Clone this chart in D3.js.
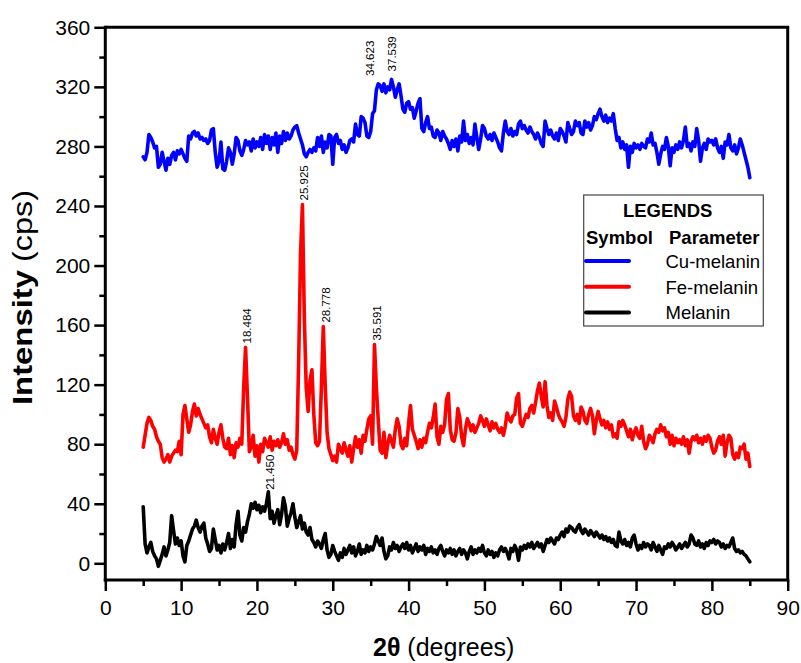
<!DOCTYPE html>
<html>
<head>
<meta charset="utf-8">
<script src="https://cdn.jsdelivr.net/npm/d3@7"></script>
<style>
  html, body { margin: 0; padding: 0; background: #ffffff; }
  svg { display: block; }
  text { font-family: "Liberation Sans", Arial, Helvetica, sans-serif; fill: #000; }
</style>
</head>
<body>
<svg id="chart" width="801" height="663"></svg>
<script>
// XRD patterns sampled every 0.25° of 2θ, from 5° to 85°
const thetaStart = 5;
const thetaStep = 0.25;

const cuMelanin = [
  273,271,276,288,286,283,279,280,
  266,268,276,270,264,272,268,274,
  276,271,277,275,278,275,272,270,
  287,285,289,290,287,289,285,286,
  284,285,282,284,291,292,276,266,
  270,283,265,264,270,279,276,268,
  275,286,284,277,274,278,284,281,
  283,277,285,279,283,280,286,278,
  288,282,287,278,286,281,289,276,
  287,282,290,284,289,285,287,291,
  293,294,289,285,281,275,273,276,
  278,276,279,277,286,280,287,276,
  283,279,288,287,268,286,288,282,
  284,278,281,276,279,284,285,283,
  295,288,287,300,299,296,287,286,
  290,302,304,318,322,321,317,322,
  316,320,318,325,320,313,318,322,
  314,305,303,309,310,305,306,299,
  304,309,312,292,290,296,300,292,
  293,287,286,291,289,284,290,287,
  285,282,278,284,280,285,277,287,
  283,297,284,288,282,286,281,295,
  286,278,285,294,292,287,285,288,
  284,289,286,283,279,277,289,297,
  290,288,292,287,290,288,295,297,
  292,294,291,289,293,290,288,285,
  289,286,282,280,297,292,288,291,
  287,285,289,284,292,290,287,283,
  296,292,288,290,297,294,296,289,
  288,297,293,296,291,294,300,298,
  302,305,300,297,301,296,299,297,
  302,292,284,286,279,283,278,281,
  266,280,276,282,279,281,278,282,
  280,279,285,283,289,281,282,276,
  268,275,280,278,286,280,267,279,
  276,281,278,283,279,284,293,280,
  282,277,283,280,292,284,270,279,
  282,278,285,283,284,281,285,279,
  276,280,272,283,281,288,279,277,
  281,275,279,285,281,276,271,266,
  259
];

const feMelanin = [
  78,86,94,98,96,92,90,85,
  82,80,71,68,70,73,68,72,
  74,76,75,82,73,100,106,97,
  88,93,102,107,99,104,100,97,
  94,91,93,85,81,90,84,80,
  88,93,84,78,77,84,73,79,
  71,81,78,84,80,118,145,112,
  75,78,86,72,79,68,80,75,
  84,81,78,85,76,82,79,83,
  78,81,87,80,83,76,78,73,
  70,76,135,208,241,165,118,102,
  123,130,100,81,79,82,118,159,
  120,88,77,73,69,72,68,80,
  77,74,81,76,72,79,68,77,
  85,78,83,74,86,82,90,97,
  99,80,147,118,96,76,74,88,
  71,80,86,82,78,90,97,92,
  80,77,84,79,94,106,90,86,
  82,77,83,78,84,81,88,94,
  91,98,107,85,80,92,88,93,
  110,114,90,83,82,88,104,98,
  85,79,90,97,94,89,93,88,
  91,94,99,96,92,97,93,89,
  95,91,94,90,88,91,86,92,
  101,97,95,99,100,111,114,94,
  92,96,100,98,104,106,101,108,
  116,121,112,105,122,106,98,101,
  96,109,105,100,97,95,92,98,
  110,115,112,99,96,100,94,105,
  102,96,94,100,104,99,87,96,
  102,97,93,96,91,95,90,93,
  85,87,84,95,92,96,93,89,
  85,90,83,88,91,86,84,92,
  82,77,80,86,84,81,87,90,
  88,93,89,91,85,88,80,86,
  79,84,81,83,80,85,79,83,
  74,82,85,83,86,81,84,80,
  85,82,86,84,78,74,76,82,
  85,80,86,72,81,86,84,73,
  70,74,71,78,77,80,70,74,
  65
];

const melanin = [
  38,13,7,11,14,8,5,3,
  -2,2,6,11,5,9,14,32,
  22,13,17,12,15,5,1,12,
  15,19,23,25,29,24,21,25,
  27,17,13,8,10,23,16,9,
  12,7,13,9,14,20,10,16,
  11,26,35,19,15,24,21,28,
  33,40,37,41,36,39,34,38,
  35,40,48,30,35,27,32,36,
  26,33,44,38,25,30,34,40,
  31,24,28,32,23,27,21,19,
  24,16,14,11,15,13,10,16,
  20,9,4,6,12,8,5,2,
  7,4,10,6,9,12,7,11,
  5,8,13,6,9,7,12,8,
  11,9,13,18,15,12,17,8,
  3,5,11,9,14,10,12,8,
  11,13,10,14,9,12,7,10,
  13,8,11,9,12,6,10,8,
  11,7,9,6,10,12,8,5,
  9,7,10,6,9,5,8,10,
  6,9,7,3,8,11,6,9,
  7,10,8,12,7,5,9,6,
  8,4,7,5,9,11,8,10,
  7,3,10,8,12,9,2,11,
  9,12,10,13,11,14,10,12,
  14,11,13,8,12,16,14,17,
  15,13,17,16,19,21,18,23,
  21,25,24,22,21,24,26,22,
  20,23,21,19,22,20,18,21,
  19,17,19,16,18,15,17,14,
  16,12,11,21,15,13,16,12,
  14,11,17,19,13,9,12,10,
  14,11,13,12,9,14,11,8,
  12,9,6,11,10,13,11,14,
  12,9,11,13,10,12,14,11,
  13,19,17,13,12,15,11,13,
  10,14,12,15,14,16,13,15,
  14,11,13,10,12,11,14,17,
  10,8,9,7,8,6,5,3,
  1
];

const seriesNames = ["Cu-melanin", "Fe-melanin", "Melanin"];
const xTicks = [0, 10, 20, 30, 40, 50, 60, 70, 80, 90];
const xMinorTicks = [5, 15, 25, 35, 45, 55, 65, 75, 85];
const yTicks = [0, 40, 80, 120, 160, 200, 240, 280, 320, 360];
const yMinorTicks = [20, 60, 100, 140, 180, 220, 260, 300, 340];

// 2θ positions of the annotated reflections
const peakSeries = ["Cu-melanin", "Cu-melanin", "Fe-melanin", "Fe-melanin", "Fe-melanin", "Fe-melanin", "Melanin"];
const peakTheta = [34.623, 37.539, 18.484, 25.925, 28.778, 35.591, 21.450];

// ---- drawing ----
const svg = d3.select("#chart");
const FONT = '"Liberation Sans", Arial, Helvetica, sans-serif';

const x = d3.scaleLinear().domain([0, 90]).range([105.3, 787.7]);
const y = d3.scaleLinear().domain([-11.2, 360]).range([580, 27.3]);

const seriesValues = { "Cu-melanin": cuMelanin, "Fe-melanin": feMelanin, "Melanin": melanin };
const seriesColor = { "Cu-melanin": "#0000ff", "Fe-melanin": "#ff0000", "Melanin": "#000000" };
// search half-width (deg) and gap (px) used to seat each peak label above its curve
const labelWindow = { "Cu-melanin": 1.6, "Fe-melanin": 0.4, "Melanin": 0.4 };
const labelGap = { "Cu-melanin": 8, "Fe-melanin": 4, "Melanin": 2 };

const points = name => seriesValues[name].map((v, i) => [thetaStart + i * thetaStep, v]);

const line = d3.line().x(d => x(d[0])).y(d => y(d[1]));

const plot = svg.append("g");
seriesNames.forEach(name => {
  plot.append("path")
    .datum(points(name))
    .attr("d", line)
    .attr("fill", "none")
    .attr("stroke", seriesColor[name])
    .attr("stroke-width", 3.6)
    .attr("stroke-linejoin", "round")
    .attr("stroke-linecap", "round");
});

// peak annotations
peakTheta.forEach((t, i) => {
  const name = peakSeries[i];
  const near = points(name).filter(d => Math.abs(d[0] - t) <= labelWindow[name]);
  const top = d3.max(near, d => d[1]);
  svg.append("text")
    .attr("transform", `translate(${x(t) + 2},${y(top) - labelGap[name]}) rotate(-90)`)
    .attr("dy", "0.35em")
    .attr("font-size", 11.5)
    .attr("text-anchor", "start")
    .text(t.toFixed(3));
});

// frame: top and right edges
const frame = svg.append("g").attr("stroke", "#000").attr("stroke-width", 3).attr("fill", "none");
frame.append("line").attr("x1", x(0)).attr("x2", x(90) + 1.5).attr("y1", y(360)).attr("y2", y(360));
frame.append("line").attr("x1", x(90)).attr("x2", x(90)).attr("y1", y(360)).attr("y2", y.range()[0]);

// y axis
const yAxisG = svg.append("g").attr("transform", `translate(${x(0)},0)`)
  .call(d3.axisLeft(y).tickValues(yTicks).tickSize(11).tickSizeOuter(0).tickPadding(4));
yAxisG.select(".domain").attr("stroke-width", 3).attr("d", `M0,${y.range()[0] + 1.5}V${y(360) - 1.5}`);
yAxisG.selectAll(".tick line").attr("stroke-width", 2.5);
yAxisG.selectAll(".tick text").attr("font-size", 21).attr("font-family", FONT);

const yMinorG = svg.append("g").attr("transform", `translate(${x(0)},0)`)
  .call(d3.axisLeft(y).tickValues(yMinorTicks).tickSize(6).tickFormat(""));
yMinorG.select(".domain").remove();
yMinorG.selectAll(".tick line").attr("stroke-width", 2.5);

// x axis
const xAxisG = svg.append("g").attr("transform", `translate(0,${y.range()[0]})`)
  .call(d3.axisBottom(x).tickValues(xTicks).tickSize(11).tickSizeOuter(0).tickPadding(9));
xAxisG.select(".domain").attr("stroke-width", 3).attr("d", `M${x(0) - 1.5},0H${x(90) + 1.5}`);
xAxisG.selectAll(".tick line").attr("stroke-width", 2.5);
xAxisG.selectAll(".tick text").attr("font-size", 21).attr("font-family", FONT);

const xMinorG = svg.append("g").attr("transform", `translate(0,${y.range()[0]})`)
  .call(d3.axisBottom(x).tickValues(xMinorTicks).tickSize(6).tickFormat(""));
xMinorG.select(".domain").remove();
xMinorG.selectAll(".tick line").attr("stroke-width", 2.5);

// axis titles
const yTitle = svg.append("g").attr("transform", "translate(32,405) rotate(-90)");
yTitle.append("text").attr("x", 0).attr("y", 0)
  .attr("font-size", 28).attr("font-weight", "bold")
  .attr("textLength", 135).attr("lengthAdjust", "spacingAndGlyphs")
  .text("Intensity");
yTitle.append("text").attr("x", 143).attr("y", 0)
  .attr("font-size", 28)
  .attr("textLength", 72).attr("lengthAdjust", "spacingAndGlyphs")
  .text("(cps)");

const xTitle = svg.append("text").attr("x", 373).attr("y", 656).attr("font-size", 25);
xTitle.append("tspan").attr("font-weight", "bold").text("2θ");
xTitle.append("tspan").text(" (degrees)");

// legend
const legend = svg.append("g");
legend.append("rect")
  .attr("x", 583.7).attr("y", 195).attr("width", 179.6).attr("height", 131)
  .attr("fill", "#fff").attr("stroke", "#444").attr("stroke-width", 1.2);
legend.append("text").attr("x", 667.7).attr("y", 216.5).attr("text-anchor", "middle")
  .attr("font-size", 18.5).attr("font-weight", "bold").text("LEGENDS");
legend.append("text").attr("x", 586).attr("y", 243.5)
  .attr("font-size", 18.5).attr("font-weight", "bold").text("Symbol");
legend.append("text").attr("x", 669).attr("y", 243.5)
  .attr("font-size", 18.5).attr("font-weight", "bold").text("Parameter");

seriesNames.forEach((name, i) => {
  const ly = 261 + i * 25.7;
  legend.append("line")
    .attr("x1", 586).attr("x2", 629).attr("y1", ly).attr("y2", ly)
    .attr("stroke", seriesColor[name]).attr("stroke-width", 4).attr("stroke-linecap", "round");
  legend.append("text").attr("x", 665.5).attr("y", ly + 7)
    .attr("font-size", 18.5).text(name);
});
</script>
</body>
</html>
